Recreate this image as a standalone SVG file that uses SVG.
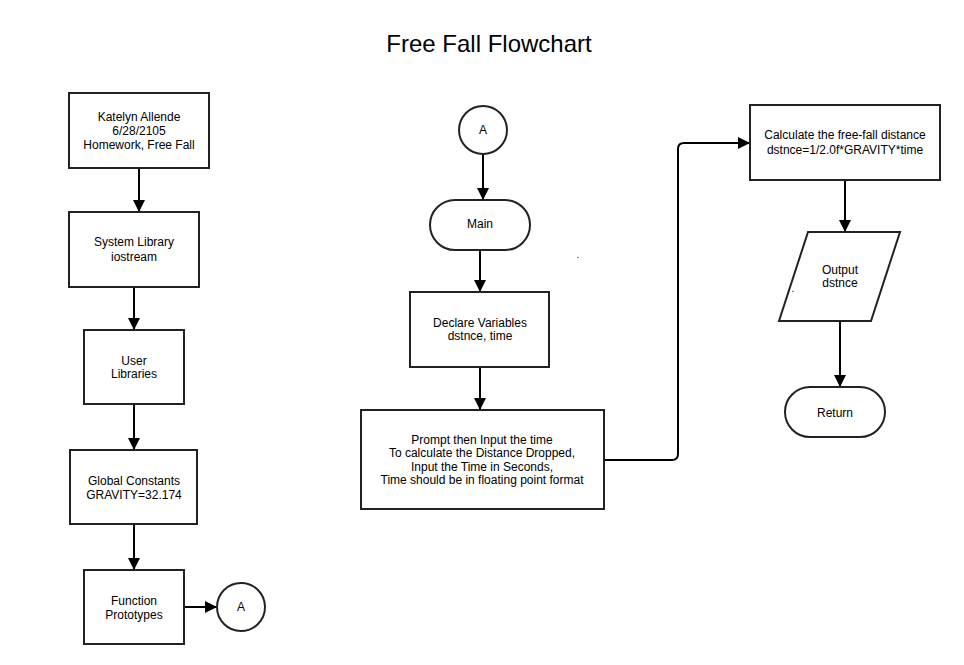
<svg xmlns="http://www.w3.org/2000/svg" width="964" height="665" viewBox="0 0 964 665">
<defs>
<marker id="arr" markerWidth="12" markerHeight="12" refX="11" refY="6" orient="auto" markerUnits="userSpaceOnUse">
<path d="M0,0 L12,6 L0,12 Z" fill="#000"/>
</marker>
<style>
.n{fill:#fff;stroke:#222;stroke-width:2}
.t{font-family:"Liberation Sans",Arial,sans-serif;font-size:12px;fill:#000;text-anchor:middle}
.c{fill:none;stroke:#000;stroke-width:2}
</style>
</defs>
<rect width="964" height="665" fill="#fff"/>
<text x="489" y="52" style="font-family:'Liberation Sans',Arial,sans-serif;font-size:24px;text-anchor:middle">Free Fall Flowchart</text>
<g id="connectors">
<path class="c" d="M139,168 V211" marker-end="url(#arr)"/>
<path class="c" d="M134,287 V329" marker-end="url(#arr)"/>
<path class="c" d="M134,404 V449" marker-end="url(#arr)"/>
<path class="c" d="M134,524 V569" marker-end="url(#arr)"/>
<path class="c" d="M184,607 H216" marker-end="url(#arr)"/>
<path class="c" d="M483,154 V199" marker-end="url(#arr)"/>
<path class="c" d="M480,250 V291" marker-end="url(#arr)"/>
<path class="c" d="M480,367 V409" marker-end="url(#arr)"/>
<path class="c" d="M604,460 H672 Q678,460 678,454 V149 Q678,143 684,143 H749" marker-end="url(#arr)"/>
<path class="c" d="M845,180 V231" marker-end="url(#arr)"/>
<path class="c" d="M840,321 V386" marker-end="url(#arr)"/>
</g>
<g id="n1"><rect class="n" x="69" y="93" width="140" height="75"/>
<text class="t" x="139" y="121">Katelyn Allende</text><text class="t" x="139" y="135">6/28/2105</text><text class="t" x="139" y="149">Homework, Free Fall</text></g>
<g id="n2"><rect class="n" x="69" y="212" width="130" height="75"/>
<text class="t" x="134" y="246">System Library</text><text class="t" x="134" y="261">iostream</text></g>
<g id="n3"><rect class="n" x="84" y="330" width="100" height="74"/>
<text class="t" x="134" y="365">User</text><text class="t" x="134" y="378">Libraries</text></g>
<g id="n4"><rect class="n" x="70" y="450" width="127" height="74"/>
<text class="t" x="134" y="485">Global Constants</text><text class="t" x="134" y="499">GRAVITY=32.174</text></g>
<g id="n5"><rect class="n" x="84" y="570" width="100" height="74"/>
<text class="t" x="134" y="605">Function</text><text class="t" x="134" y="619">Prototypes</text></g>
<g id="n6"><circle class="n" cx="241" cy="607" r="24"/>
<text class="t" x="241" y="611">A</text></g>
<g id="n7"><circle class="n" cx="483" cy="130" r="24"/>
<text class="t" x="483" y="134">A</text></g>
<g id="n8"><rect class="n" x="430" y="200" width="100" height="50" rx="25" ry="25"/>
<text class="t" x="480" y="228">Main</text></g>
<g id="n9"><rect class="n" x="410" y="292" width="139" height="75"/>
<text class="t" x="480" y="327">Declare Variables</text><text class="t" x="480" y="340">dstnce, time</text></g>
<g id="n10"><rect class="n" x="361" y="410" width="243" height="99"/>
<text class="t" x="482" y="444">Prompt then Input the time</text><text class="t" x="482" y="457">To calculate the Distance Dropped,</text><text class="t" x="482" y="471">Input the Time in Seconds,</text><text class="t" x="482" y="484">Time should be in floating point format</text></g>
<g id="n11"><rect class="n" x="750" y="105" width="190" height="75"/>
<text class="t" x="845" y="139">Calculate the free-fall distance</text><text class="t" x="845" y="154">dstnce=1/2.0f*GRAVITY*time</text></g>
<g id="n12"><polygon class="n" points="808,232 900,232 871,321 779,321"/>
<text class="t" x="840" y="274">Output</text><text class="t" x="840" y="287">dstnce</text></g>
<g id="n13"><rect class="n" x="785" y="387" width="100" height="50" rx="25" ry="25"/>
<text class="t" x="835" y="417">Return</text></g>
<text class="t" x="578" y="258" style="font-size:10px">.</text>
<text class="t" x="793" y="292" style="font-size:10px">.</text>
</svg>
